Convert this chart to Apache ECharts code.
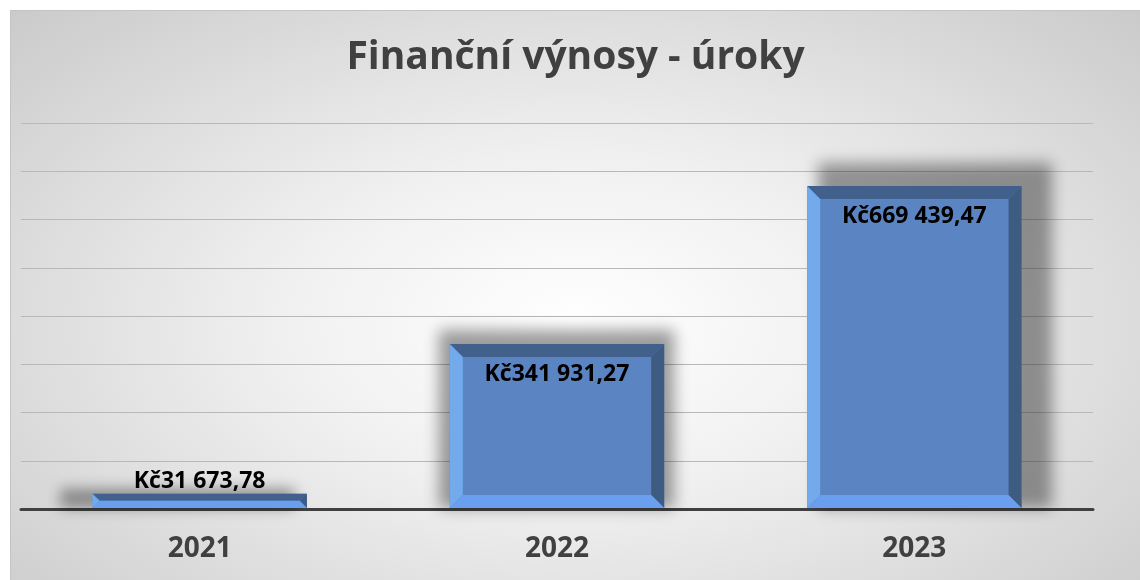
<!DOCTYPE html>
<html>
<head>
<meta charset="utf-8">
<script src="https://cdn.jsdelivr.net/npm/echarts@6/dist/echarts.min.js"></script>
<style>
  html, body { margin: 0; padding: 0; background: #fff; }
  #chart {
    position: absolute; left: 10px; top: 10px; width: 1130px; height: 570px;
    border-left: 1px solid #c4c4c4; border-top: 1px solid #c4c4c4; box-sizing: border-box;
    background: radial-gradient(ellipse 75% 85% at 50% 55%, #ffffff 0%, #f0f0f0 35%, #c6c6c6 100%);
  }
</style>
</head>
<body>
<div id="chart"></div>
<script>
'use strict'

// data
const years = ['2021', '2022', '2023']
const values = [31673.78, 341931.27, 669439.47]
const chartTitle = 'Finanční výnosy - úroky'

const font = '"Open Sans", "Liberation Sans", sans-serif'

// Kč31 673,78 style
function formatKc (v) {
  let parts = v.toFixed(2).split('.')
  let intPart = parts[0].replace(/\B(?=(\d{3})+(?!\d))/g, ' ')
  return 'Kč' + intPart + ',' + parts[1]
}

// bevelled bar drawn through the axis scales
function renderBar (params, api) {
  let idx = api.value(0)
  let val = api.value(1)
  let top = api.coord([idx, val])
  let base = api.coord([idx, 0])
  let w = api.size([1, 0])[0] * 0.6
  let x0 = top[0] - w / 2, x1 = top[0] + w / 2
  let y0 = top[1], y1 = base[1] - 1
  let h = y1 - y0
  let b = Math.min(13, h / 2)
  let shift = (top[0] - 556) * 0.06
  let sh = h * 1.06 + 4
  let off = 3000
  let children = [
    { // blurred perspective shadow, drawn far off-canvas so only the shadow shows
      type: 'rect',
      shape: { x: x0 - 10 + shift - off, y: y1 - sh, width: w + 20, height: sh },
      style: { fill: '#000', shadowBlur: 14, shadowColor: 'rgba(0,0,0,0.38)', shadowOffsetX: off }
    },
    { type: 'rect', shape: { x: x0, y: y0, width: w, height: h }, style: { fill: '#5a85c2' } },
    { type: 'polygon', shape: { points: [[x0, y0], [x1, y0], [x1 - b, y0 + b], [x0 + b, y0 + b]] }, style: { fill: '#41618c' } },
    { type: 'polygon', shape: { points: [[x1, y0], [x1, y1], [x1 - b, y1 - b], [x1 - b, y0 + b]] }, style: { fill: '#3e5b82' } },
    { type: 'polygon', shape: { points: [[x0, y0], [x0 + b, y0 + b], [x0 + b, y1 - b], [x0, y1]] }, style: { fill: '#72aaec' } },
    { type: 'polygon', shape: { points: [[x0, y1], [x0 + b, y1 - b], [x1 - b, y1 - b], [x1, y1]] }, style: { fill: '#6a9ff0' } }
  ]
  let inside = h > 40
  children.push({
    type: 'text',
    style: {
      text: formatKc(val),
      x: top[0],
      y: inside ? y0 + 30 : y0 - 12,
      align: 'center',
      verticalAlign: 'middle',
      fill: '#000',
      font: 'bold 23px ' + font
    }
  })
  return { type: 'group', children: children }
}

let chart = echarts.init(document.getElementById('chart'), null, { renderer: 'canvas' })
chart.setOption({
  backgroundColor: 'transparent',
  animation: false,
  title: {
    text: chartTitle,
    left: 'center',
    top: 22,
    textStyle: { fontFamily: font, fontWeight: 'bold', fontSize: 39, color: '#404040' }
  },
  grid: { left: 10, right: 47, top: 112, bottom: 71 },
  xAxis: {
    type: 'category',
    data: years,
    axisTick: { show: false },
    axisLine: { lineStyle: { color: '#404040', width: 3 } },
    axisLabel: { margin: 26, fontFamily: font, fontWeight: 'bold', fontSize: 28, color: '#404040' }
  },
  yAxis: {
    type: 'value',
    min: 0,
    max: 800000,
    interval: 100000,
    axisLabel: { show: false },
    axisLine: { show: false },
    axisTick: { show: false },
    splitLine: { lineStyle: { color: '#b8b8b8', width: 1 } }
  },
  series: [{
    type: 'custom',
    renderItem: renderBar,
    data: values.map((v, i) => [i, v]),
    z: 3
  }]
})
</script>
</body>
</html>
